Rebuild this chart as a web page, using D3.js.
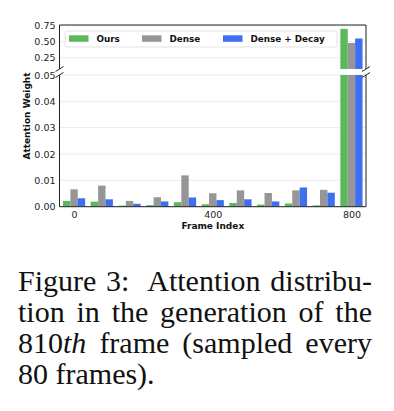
<!DOCTYPE html>
<html>
<head>
<meta charset="utf-8">
<script src="https://cdn.jsdelivr.net/npm/d3@7"></script>
<style>
  html, body { margin: 0; padding: 0; background: #fff; }
  svg { display: block; }
</style>
</head>
<body>
<div id="chart"></div>
<script>
// attention weights, one value per sampled frame
var frames = [0, 80, 160, 240, 320, 400, 480, 560, 640, 720, 800];
var ours   = [0.0022, 0.0019, 0.0004, 0.0006, 0.0017, 0.0009, 0.0014, 0.0008, 0.0012, 0.0005, 0.70];
var dense  = [0.0066, 0.0080, 0.0022, 0.0036, 0.0119, 0.0051, 0.0062, 0.0052, 0.0062, 0.0064, 0.48];
var decay  = [0.0032, 0.0028, 0.0011, 0.0020, 0.0035, 0.0025, 0.0028, 0.0020, 0.0073, 0.0053, 0.55];

var seriesNames = ["Ours", "Dense", "Dense + Decay"];
var seriesColors = ["#5cb85c", "#969696", "#3d6fef"];
var xTicks = [0, 400, 800];
var topTicks = [0.25, 0.50, 0.75];
var bottomTicks = [0, 0.01, 0.02, 0.03, 0.04, 0.05];

var captionLines = [
  ["Figure 3:  Attention distribu-"],
  ["tion in the generation of the"],
  ["810", "th", " frame (sampled every"],
  ["80 frames)."]
];

var W = 394, H = 411;
var left = 59.5, right = 366;
var font = "DejaVu Sans, sans-serif";

var svg = d3.select("#chart").append("svg")
    .attr("width", W).attr("height", H);

var x = d3.scaleLinear().domain([-42, 842]).range([left, right]);
var yTop = d3.scaleLinear().domain([0.075, 0.76]).range([69, 25]);
var yBot = d3.scaleLinear().domain([0, 0.05]).range([206.7, 75]);

var barW = 80 * 0.8 / 3;
var series = [ours, dense, decay];

// rows of bar data
var bars = [];
series.forEach(function (vals, s) {
  vals.forEach(function (v, i) {
    bars.push({ s: s, frame: frames[i], v: v });
  });
});

var defs = svg.append("defs");
defs.append("clipPath").attr("id", "clipTop").append("rect")
    .attr("x", left).attr("y", 25).attr("width", right - left).attr("height", 69 - 25);
defs.append("clipPath").attr("id", "clipBot").append("rect")
    .attr("x", left).attr("y", 75).attr("width", right - left).attr("height", 206.7 - 75);

function panel(y, ticks, clipId, fmt) {
  var g = svg.append("g");
  // gridlines
  g.append("g").selectAll("line").data(ticks).enter().append("line")
      .attr("x1", left).attr("x2", right)
      .attr("y1", d => y(d)).attr("y2", d => y(d))
      .attr("stroke", "#e6e6e6").attr("stroke-width", 0.8);

  g.append("g").attr("clip-path", "url(#" + clipId + ")")
    .selectAll("rect").data(bars).enter().append("rect")
      .attr("x", d => x(d.frame + (d.s - 1) * barW - barW / 2))
      .attr("width", x(barW) - x(0))
      .attr("y", d => y(d.v))
      .attr("height", d => Math.max(0, y.range()[0] - y(d.v)))
      .attr("fill", d => seriesColors[d.s]);

  var ax = g.append("g").attr("transform", "translate(" + left + ",0)")
      .call(d3.axisLeft(y).tickValues(ticks).tickSize(0).tickPadding(4).tickFormat(fmt));
  ax.select(".domain").remove();
  ax.selectAll("text").attr("font-family", font).attr("font-size", 9.5).attr("fill", "#222");
  return g;
}

panel(yTop, topTicks, "clipTop", d3.format(".2f"));
panel(yBot, bottomTicks, "clipBot", d3.format(".2f"));

// x axis
var xa = svg.append("g").attr("transform", "translate(0,206.7)")
    .call(d3.axisBottom(x).tickValues(xTicks).tickSize(0).tickPadding(5).tickFormat(d3.format("d")));
xa.select(".domain").remove();
xa.selectAll("text").attr("font-family", font).attr("font-size", 9.5).attr("fill", "#222");

// spines
var spine = svg.append("g").attr("fill", "none").attr("stroke", "#222").attr("stroke-width", 1);
spine.append("path").attr("d", "M" + left + ",69V25H" + right + "V69");
spine.append("path").attr("d", "M" + left + ",75V206.7H" + right + "V75");

// break marks
[left, right].forEach(function (px) {
  [69, 75].forEach(function (py) {
    spine.append("line")
        .attr("x1", px - 4).attr("y1", py + 2.5)
        .attr("x2", px + 4).attr("y2", py - 2.5);
  });
});

// legend
var lg = svg.append("g");
lg.append("rect").attr("x", 65).attr("y", 31).attr("width", 272).attr("height", 16)
    .attr("rx", 2).attr("fill", "#fff").attr("fill-opacity", 0.9)
    .attr("stroke", "#dcdcdc").attr("stroke-width", 0.8);
var legendX = [69, 142, 223];
seriesNames.forEach(function (name, i) {
  lg.append("rect").attr("x", legendX[i]).attr("y", 35.3).attr("width", 19.5).attr("height", 6.5)
      .attr("fill", seriesColors[i]);
  lg.append("text").attr("x", legendX[i] + 27.5).attr("y", 42)
      .attr("font-family", font).attr("font-size", 8.8).attr("font-weight", "bold")
      .attr("fill", "#111").text(name);
});

// axis titles
svg.append("text").attr("transform", "translate(29.5,116) rotate(-90)")
    .attr("text-anchor", "middle").attr("font-family", font).attr("font-size", 9)
    .attr("font-weight", "bold").attr("fill", "#111").text("Attention Weight");
svg.append("text").attr("x", 212.8).attr("y", 229)
    .attr("text-anchor", "middle").attr("font-family", font).attr("font-size", 9)
    .attr("font-weight", "bold").attr("fill", "#111").text("Frame Index");

// caption, justified like the paper
var capX = 18, capW = 354, capBase = [291, 322, 353, 384];
captionLines.forEach(function (parts, i) {
  var t = svg.append("text").attr("x", capX).attr("y", capBase[i])
      .attr("font-family", "Liberation Serif, Times New Roman, serif")
      .attr("font-size", 30).attr("fill", "#111")
      .style("white-space", "pre");
  parts.forEach(function (p, j) {
    var ts = t.append("tspan").text(p);
    if (parts.length > 1 && j === 1) ts.attr("font-style", "italic");
  });
  if (i < captionLines.length - 1) {
    var natural = t.node().getComputedTextLength();
    var nSpaces = (parts.join("").match(/ /g) || []).length;
    t.attr("word-spacing", (capW - natural) / nSpaces);
  }
});
</script>
</body>
</html>
